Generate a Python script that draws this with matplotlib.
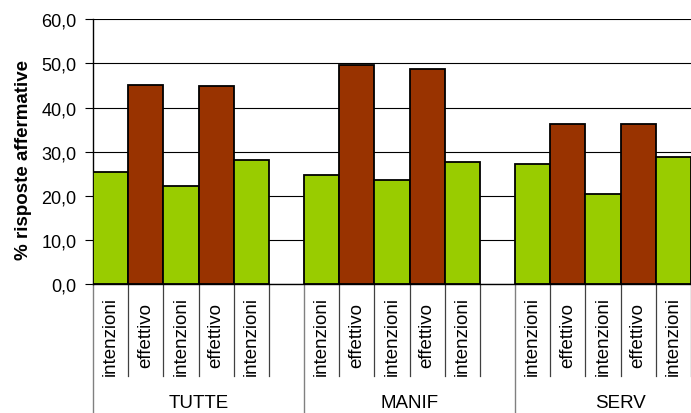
import numpy as np
import matplotlib.pyplot as plt
import matplotlib.transforms as mtransforms
from matplotlib.ticker import FuncFormatter

plt.rcParams['font.family'] = ['Liberation Sans', 'DejaVu Sans']

# Data
groups = ["TUTTE", "MANIF", "SERV"]
bar_labels = ["intenzioni", "effettivo", "intenzioni", "effettivo", "intenzioni"]
tutte = [25.5, 45.2, 22.3, 44.8, 28.0]
manif = [24.8, 49.6, 23.5, 48.8, 27.6]
serv = [27.2, 36.3, 20.3, 36.3, 28.7]
values = [tutte, manif, serv]

green = "#99CC00"
brown = "#993300"
bar_colors = [green, brown, green, brown, green]

fig = plt.figure(figsize=(6.91, 4.14), dpi=100)
ax = fig.add_axes([93 / 691, 1 - 285 / 414, 1 - 93 / 691, (285 - 20.3) / 414])

# each group takes 5 slots plus one empty slot after it
slot = 0
positions = []
for vals in values:
    xs = np.arange(slot, slot + len(vals))
    positions.append(xs)
    ax.bar(xs, vals, width=1.0, color=bar_colors, edgecolor="black",
           linewidth=1.3, zorder=3)
    slot += len(vals) + 1

ax.set_xlim(-0.5, 16.5)
ax.set_ylim(0, 60)
ax.set_yticks(np.arange(0, 61, 10))
ax.yaxis.set_major_formatter(FuncFormatter(lambda v, p: f"{v:.1f}".replace(".", ",")))
ax.tick_params(axis="y", labelsize=13, length=6, width=0.8, pad=6, direction="out")
ax.set_xticks([])
ax.grid(axis="y", color="black", linewidth=0.8, zorder=0)
ax.spines["top"].set_visible(False)
ax.spines["right"].set_visible(False)
ax.spines["left"].set_linewidth(1.0)
ax.spines["bottom"].set_linewidth(1.0)
ax.spines["bottom"].set_zorder(4)

fig.text(24 / 691, 1 - 160 / 414, "% risposte affermative", rotation=90,
         ha="center", va="center", fontsize=13.5, fontweight="bold")

# two-level category axis drawn under the plot
trans = mtransforms.blended_transform_factory(ax.transData, fig.transFigure)
y0 = 1 - 285 / 414
y_inner = 1 - 377 / 414
for xs, name in zip(positions, groups):
    start = xs[0] - 0.5
    ax.plot([start, start], [y0, 0], transform=trans, color="#808080",
            linewidth=1.0, clip_on=False)
    for x in xs[1:]:
        ax.plot([x - 0.5, x - 0.5], [y0, y_inner], transform=trans,
                color="#404040", linewidth=0.9, clip_on=False)
    ax.plot([xs[-1] + 0.5] * 2, [y0, y_inner], transform=trans,
            color="#404040", linewidth=0.9, clip_on=False)
    for x, lab in zip(xs, bar_labels):
        ax.text(x, 1 - 336 / 414, lab, transform=trans, rotation=90,
                ha="center", va="center", fontsize=13.5)
    ax.text((xs[0] + xs[-1] + 1) / 2, 1 - 404 / 414, name, transform=trans,
            ha="center", va="center", fontsize=13.5)

fig.savefig("out.png", dpi=100)
